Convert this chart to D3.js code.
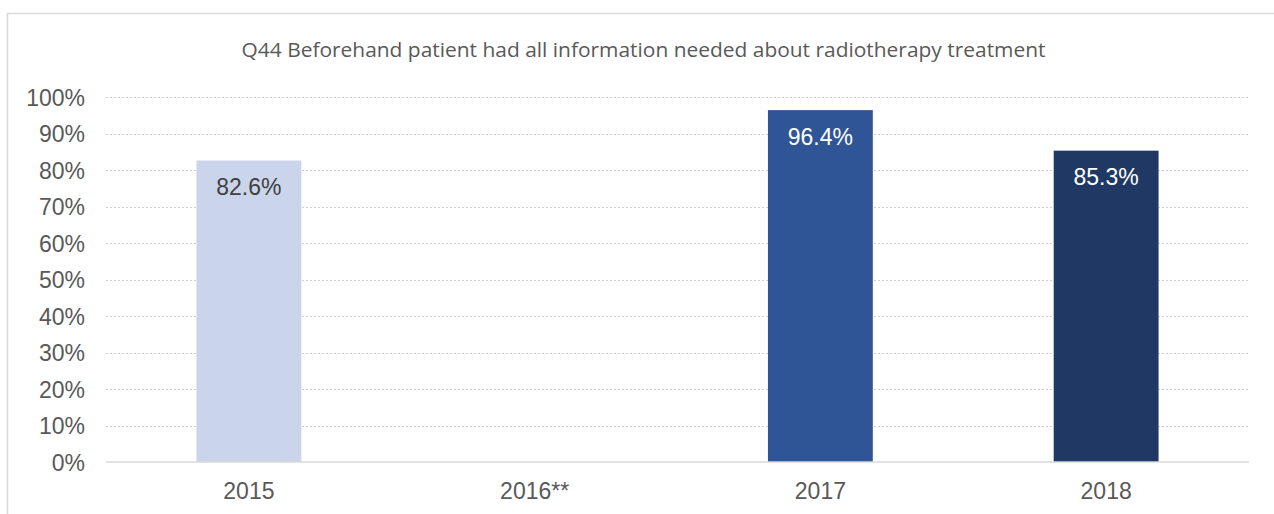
<!DOCTYPE html>
<html><head><meta charset="utf-8">
<script src="https://cdn.jsdelivr.net/npm/d3@7"></script>
<style>body{margin:0;background:#fff}svg{display:block}</style>
</head><body>
<svg id="c" width="1274" height="514"></svg>
<script>
const categories = ["2015", "2016**", "2017", "2018"];
const values = [82.6, null, 96.4, 85.3];
const barColors = ["#cad5ec", "#cad5ec", "#2f5596", "#203864"];
const labelColors = ["#404040", "#404040", "#ffffff", "#ffffff"];
const yTicks = [0,10,20,30,40,50,60,70,80,90,100];
const title = "Q44 Beforehand patient had all information needed about radiotherapy treatment";

const svg = d3.select("#c");
const m = {left:106, right:1249, top:97, bottom:462};
const FONT = "Liberation Sans, Arial, sans-serif";

svg.append("rect").attr("x",7.5).attr("y",13.5).attr("width",1300).attr("height",600)
  .attr("fill","#fff").attr("stroke","#d9d9d9").attr("stroke-width",1.5);

const x = d3.scaleBand().domain(categories).range([m.left,m.right]).paddingInner(0.633).paddingOuter(0.3165);
const y = d3.scaleLinear().domain([0,100]).range([m.bottom,m.top]);

// gridlines
svg.append("g").selectAll("line").data(yTicks.filter(d=>d>0)).join("line")
  .attr("x1",m.left).attr("x2",m.right)
  .attr("y1",d=>Math.round(y(d))+0.5).attr("y2",d=>Math.round(y(d))+0.5)
  .attr("stroke","#d0d0d0").attr("stroke-width",1).attr("stroke-dasharray","2,2");

// y axis labels
const yAxis = d3.axisLeft(y).tickValues(yTicks).tickFormat(d=>d+"%").tickSize(0).tickPadding(0);
const ga = svg.append("g").attr("transform",`translate(85,0)`).call(yAxis);
ga.select(".domain").remove();
ga.selectAll("text").attr("font-family",FONT).attr("font-size",23).attr("fill","#595959").attr("dy","0.35em");

// bars
const data = categories.map((c,i)=>({c,v:values[i],i})).filter(d=>d.v!=null);
svg.append("g").selectAll("rect").data(data).join("rect")
  .attr("x",d=>x(d.c)).attr("width",x.bandwidth())
  .attr("y",d=>y(d.v)).attr("height",d=>y(0)-y(d.v))
  .attr("fill",d=>barColors[d.i]);

svg.append("g").selectAll("text").data(data).join("text")
  .attr("x",d=>x(d.c)+x.bandwidth()/2).attr("y",d=>y(d.v)+26.5)
  .attr("text-anchor","middle").attr("dy","0.35em")
  .attr("font-family",FONT).attr("font-size",23)
  .attr("fill",d=>labelColors[d.i]).text(d=>d.v.toFixed(1)+"%");

// baseline
svg.append("line").attr("x1",m.left).attr("x2",m.right).attr("y1",y(0)).attr("y2",y(0))
  .attr("stroke","#d9d9d9").attr("stroke-width",1.5);

// x axis labels
const xAxis = d3.axisBottom(x).tickSize(0).tickPadding(0);
const gx = svg.append("g").attr("transform",`translate(0,491)`).call(xAxis);
gx.select(".domain").remove();
gx.selectAll("text").attr("font-family",FONT).attr("font-size",23).attr("fill","#595959").attr("dy","0.35em");

// title
svg.append("text").attr("x",643.5).attr("y",56.5).attr("text-anchor","middle")
  .attr("font-family","Open Sans, sans-serif").attr("font-size",20).attr("fill","#595959")
  .attr("textLength",804).attr("lengthAdjust","spacingAndGlyphs").text(title);
</script>
</body></html>
